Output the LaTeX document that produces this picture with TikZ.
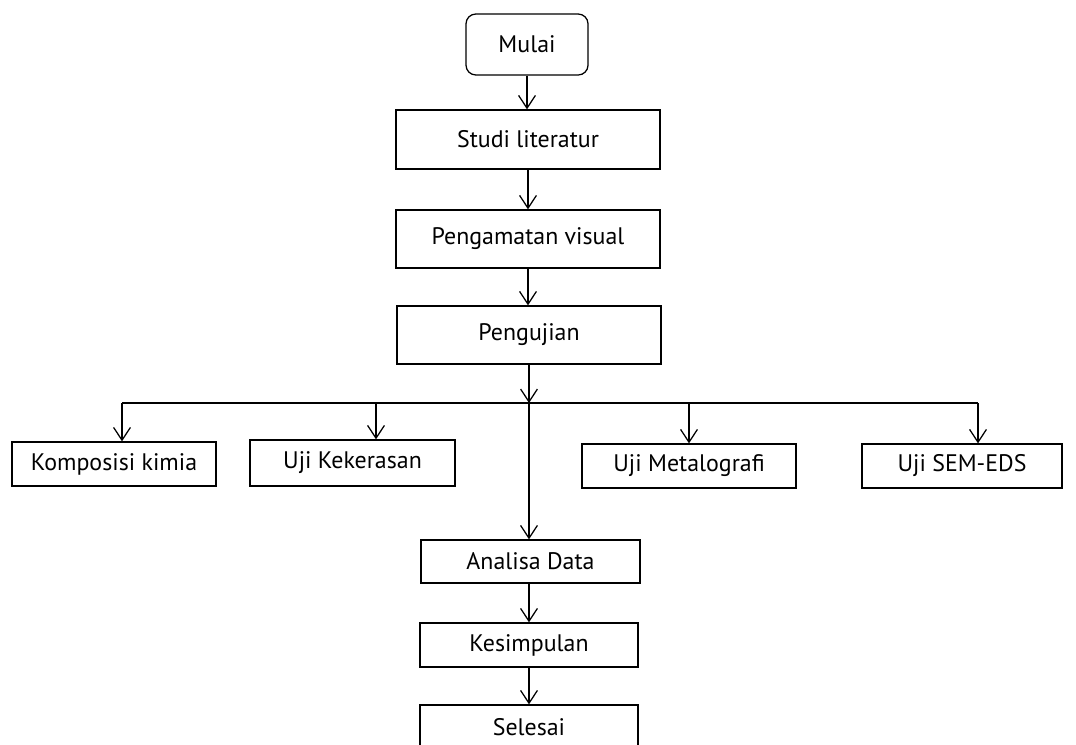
\documentclass[tikz,border=0pt]{standalone}
\usepackage{fontspec}
\setmainfont{PT Sans}
\usetikzlibrary{arrows.meta}

\begin{document}
\begin{tikzpicture}[x=0.025cm, y=-0.025cm, >={Straight Barb[length=3.2mm, width=4.2mm]},
    line width=0.9pt,
    box/.style={draw, line width=0.9pt, align=center, inner sep=0pt, font=\fontsize{17}{20}\selectfont},
    startbox/.style={box, rounded corners=7pt}]
    \useasboundingbox (0,0) rectangle (1076,744);

    % Main column
    \node[startbox, minimum width=3.05cm, minimum height=1.525cm] (mulai) at (527,44.5) {Mulai};
    \node[box, minimum width=6.6cm, minimum height=1.475cm] (studi) at (528,139.5) {Studi literatur};
    \node[box, minimum width=6.6cm, minimum height=1.45cm] (visual) at (528,239) {Pengamatan visual};
    \node[box, minimum width=6.6cm, minimum height=1.45cm] (uji) at (529,335) {Pengujian};

    % Tests
    \node[box, minimum width=5.1cm, minimum height=1.1cm] (kimia) at (114,464) {Komposisi kimia};
    \node[box, minimum width=5.125cm, minimum height=1.15cm] (keras) at (352.5,463) {Uji Kekerasan};
    \node[box, minimum width=5.35cm, minimum height=1.1cm] (metalo) at (689,466) {Uji Metalografi};
    \node[box, minimum width=5.0cm, minimum height=1.1cm] (sem) at (962,466) {Uji SEM-EDS};

    % Lower column
    \node[box, minimum width=5.475cm, minimum height=1.075cm] (analisa) at (530.5,561.5) {Analisa Data};
    \node[box, minimum width=5.45cm, minimum height=1.1cm] (simpul) at (529,645) {Kesimpulan};
    \node[box, minimum width=5.45cm, minimum height=1.1cm] (selesai) at (529,727) {Selesai};

    % Bus
    \coordinate (hub) at (529,403);
    \coordinate (b1) at (122,403);
    \coordinate (b2) at (376,403);
    \coordinate (b3) at (689,403);
    \coordinate (b4) at (978,403);
    \draw (b1) -- (b4);

    % Arrows
    \draw[->] (mulai) -- (mulai.south |- studi.north);
    \draw[->] (studi) -- (studi.south |- visual.north);
    \draw[->] (visual) -- (visual.south |- uji.north);
    \draw[->] (uji.south -| hub) -- (hub);
    \draw[->] (b1) -- (b1 |- kimia.north);
    \draw[->] (b2) -- (b2 |- keras.north);
    \draw[->] (b3) -- (b3 |- metalo.north);
    \draw[->] (b4) -- (b4 |- sem.north);
    \draw[->] (hub) -- (hub |- analisa.north);
    \draw[->] (analisa.south -| hub) -- (hub |- simpul.north);
    \draw[->] (simpul.south -| hub) -- (hub |- selesai.north);
\end{tikzpicture}
\end{document}
